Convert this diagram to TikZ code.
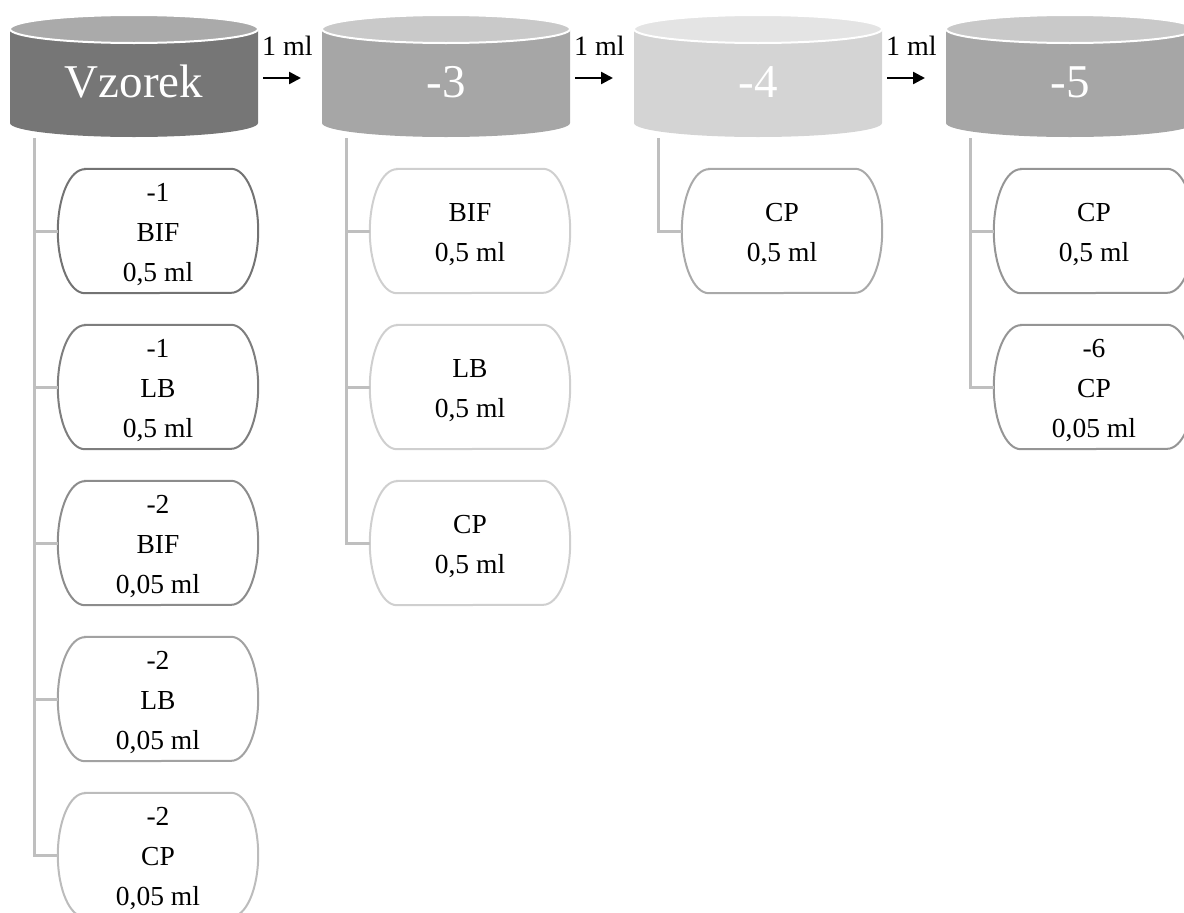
\documentclass[tikz,border=0pt]{standalone}
\usepackage{fontspec}
\setmainfont{Liberation Serif}
\usetikzlibrary{arrows.meta}

\definecolor{drumA}{HTML}{767676}
\definecolor{drumAtop}{HTML}{AAAAAA}
\definecolor{drumB}{HTML}{A6A6A6}
\definecolor{drumBtop}{HTML}{C9C9C9}
\definecolor{drumC}{HTML}{D4D4D4}
\definecolor{drumCtop}{HTML}{E4E4E4}
\definecolor{linkgrey}{HTML}{BFBFBF}
\definecolor{edgeA}{HTML}{737373}
\definecolor{edgeB}{HTML}{7E7E7E}
\definecolor{edgeC}{HTML}{8C8C8C}
\definecolor{edgeD}{HTML}{A2A2A2}
\definecolor{edgeE}{HTML}{BCBCBC}
\definecolor{edgeF}{HTML}{CFCFCF}
\definecolor{edgeG}{HTML}{A9A9A9}
\definecolor{edgeH}{HTML}{959595}

\tikzset{
  drumtext/.style={text=white, inner sep=0pt,
    font=\fontsize{47bp}{50bp}\selectfont},
  pillframe/.style={minimum width=200bp, minimum height=124bp, inner sep=0pt},
  pilltext/.style={inner sep=0pt, align=center,
    font=\fontsize{27.5bp}{40bp}\selectfont},
  pilledge/.style={line width=2bp},
  link/.style={draw=linkgrey, line width=3bp},
  flow/.style={line width=2.5bp, -{Triangle[length=12bp,width=12bp]}},
  flowtext/.style={inner sep=0pt, anchor=base west,
    font=\fontsize{28bp}{30bp}\selectfont},
}

% cylinder: name, left x, body colour, top colour, label
\newcommand\drum[5]{%
  \fill[#3] (#2,29) -- (#2,123)
    arc[start angle=180, end angle=360, x radius=124bp, y radius=14bp]
    -- (#2+248,29) -- cycle;
  \filldraw[fill=#4, draw=white, line width=2bp]
    (#2+124,29) ellipse[x radius=124bp, y radius=14bp];
  \node[drumtext] (#1) at (#2+124,82) {#5};
  \coordinate (#1-root) at (#2+24,138);
}

% rounded box with elliptic sides: name, centre x, centre y, edge colour, text
\newcommand\pill[5]{%
  \node[pillframe] (#1) at (#2,#3) {};
  \node[pilltext] (#1-text) at ([yshift=-4bp]#1.center) {#5};
  \draw[pilledge, draw=#4]
    ([xshift=27bp]#1.north west) -- ([xshift=-27bp]#1.north east)
    arc[start angle=90, end angle=-90, x radius=27bp, y radius=62bp]
    -- ([xshift=27bp]#1.south west)
    arc[start angle=270, end angle=90, x radius=27bp, y radius=62bp]
    -- cycle;
}

\begin{document}
\begin{tikzpicture}[x=1bp, y=-1bp]
\useasboundingbox (0,0) rectangle (1184,913);
\clip (0,0) rectangle (1184,913);

% dilution stages
\drum{d0}{10}{drumA}{drumAtop}{Vzorek}
\drum{d3}{322}{drumB}{drumBtop}{-3}
\drum{d4}{634}{drumC}{drumCtop}{-4}
\drum{d5}{946}{drumB}{drumBtop}{-5}

% transfers between stages
\foreach \s/\x in {a/263, b/575, c/887}{
  \node[flowtext] (lab-\s) at (\x-1,55) {1 ml};
  \coordinate (from-\s) at (\x,78);
  \coordinate (to-\s) at (\x+38,78);
  \draw[flow] (from-\s) -- (to-\s);
}

% plated portions of the sample
\pill{p01}{158}{231}{edgeA}{-1\\BIF\\0,5 ml}
\pill{p02}{158}{387}{edgeB}{-1\\LB\\0,5 ml}
\pill{p03}{158}{543}{edgeC}{-2\\BIF\\0,05 ml}
\pill{p04}{158}{699}{edgeD}{-2\\LB\\0,05 ml}
\pill{p05}{158}{855}{edgeE}{-2\\CP\\0,05 ml}

% plated portions of -3
\pill{p31}{470}{231}{edgeF}{BIF\\0,5 ml}
\pill{p32}{470}{387}{edgeF}{LB\\0,5 ml}
\pill{p33}{470}{543}{edgeF}{CP\\0,5 ml}

% plated portion of -4
\pill{p41}{782}{231}{edgeG}{CP\\0,5 ml}

% plated portions of -5
\pill{p51}{1094}{231}{edgeH}{CP\\0,5 ml}
\pill{p52}{1094}{387}{edgeH}{-6\\CP\\0,05 ml}

% tree links
\foreach \b in {p01,p02,p03,p04,p05}{\draw[link] (d0-root) |- (\b.west);}
\foreach \b in {p31,p32,p33}{\draw[link] (d3-root) |- (\b.west);}
\draw[link] (d4-root) |- (p41.west);
\foreach \b in {p51,p52}{\draw[link] (d5-root) |- (\b.west);}
\end{tikzpicture}
\end{document}
